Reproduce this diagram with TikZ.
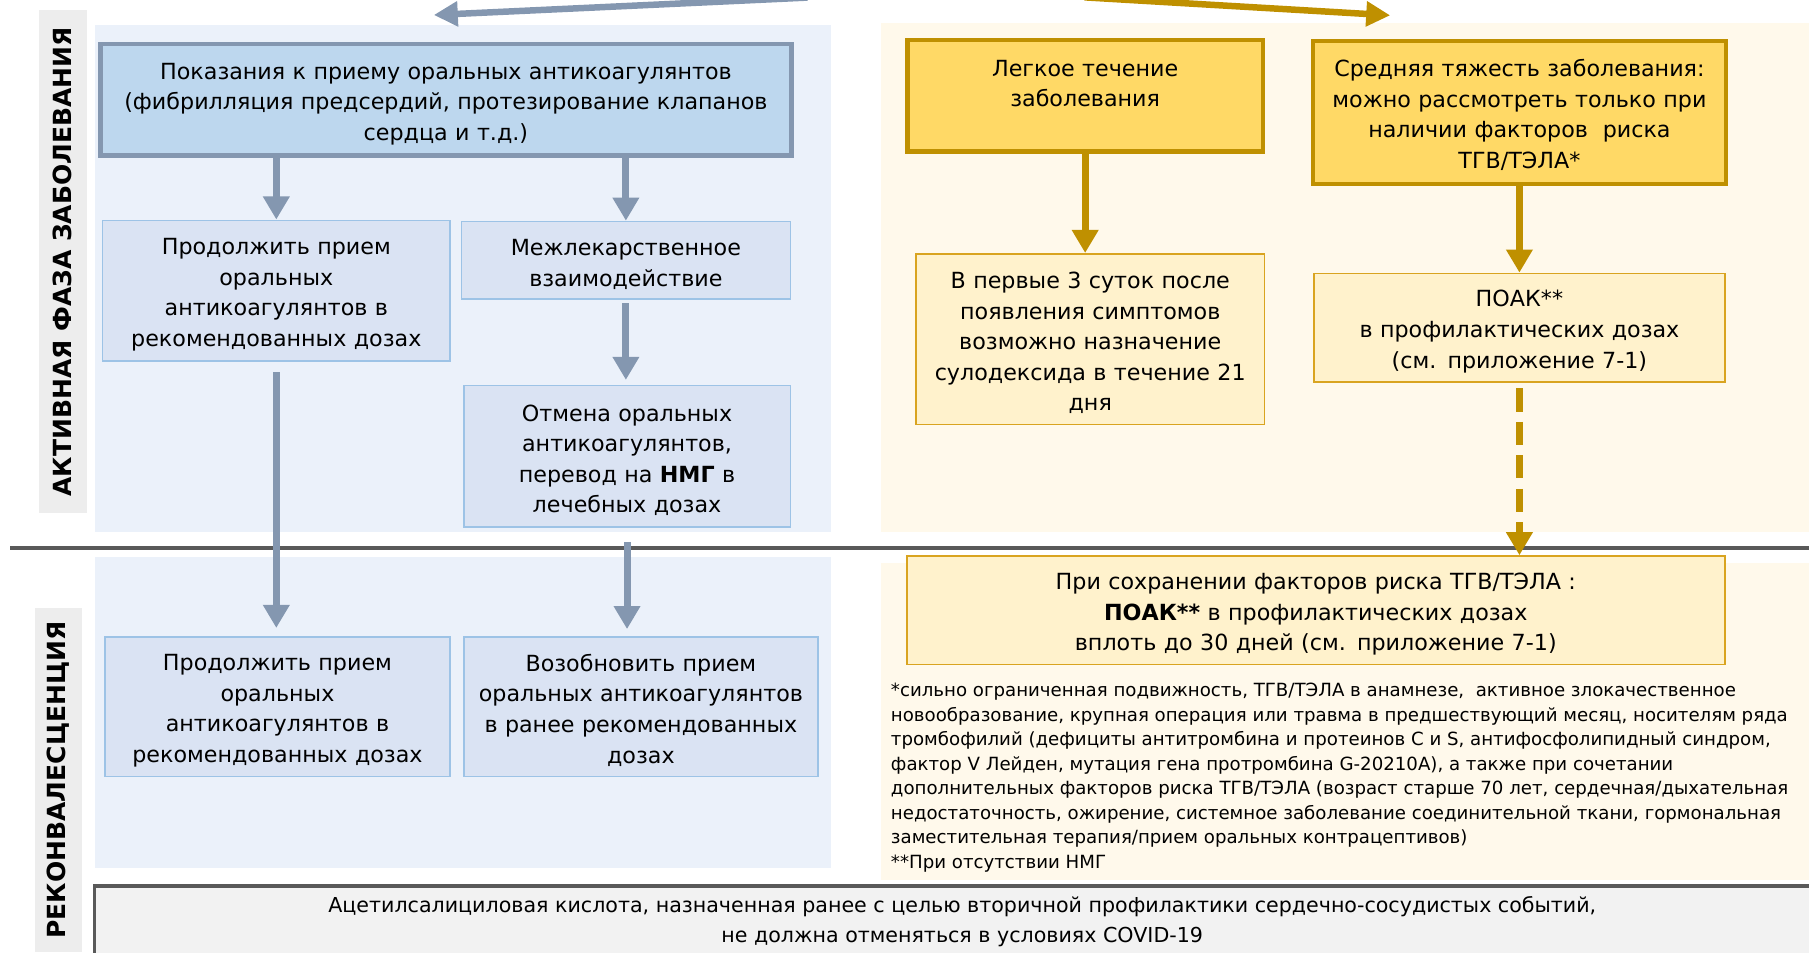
\documentclass[tikz,border=0pt]{standalone}
\usepackage{fontspec}
\setmainfont{DejaVu Sans}
\usetikzlibrary{arrows.meta}
\definecolor{slate}{HTML}{8497B0}
\definecolor{blmain}{HTML}{BDD7EE}
\definecolor{blsub}{HTML}{DAE3F3}
\definecolor{blline}{HTML}{9DC3E6}
\definecolor{bgblue}{HTML}{EBF1FA}
\definecolor{bgyel}{HTML}{FFF9EB}
\definecolor{gold}{HTML}{BF9000}
\definecolor{yemain}{HTML}{FFD966}
\definecolor{yesub}{HTML}{FFF2CC}
\definecolor{yeline}{HTML}{D9A420}
\definecolor{labgray}{HTML}{EDEDED}
\definecolor{sepgray}{HTML}{595959}
\definecolor{barfill}{HTML}{F2F2F2}
\newcommand{\fsA}{\fontsize{13.7pt}{18.85pt}\selectfont}
\newcommand{\fsB}{\fontsize{11.2pt}{15.15pt}\selectfont}
\newcommand{\fsC}{\fontsize{15.4pt}{18pt}\selectfont\bfseries}
\newcommand{\fsD}{\fontsize{12.7pt}{18.5pt}\selectfont}
\tikzstyle{bl1}=[draw=slate, line width=2.8pt, fill=blmain, align=center, inner sep=0pt, font=\fsA, execute at begin node=\rule{0pt}{15pt}]
\tikzstyle{bl2}=[draw=blline, line width=1pt, fill=blsub, align=center, inner sep=0pt, font=\fsA, execute at begin node=\rule{0pt}{15pt}]
\tikzstyle{ye1}=[draw=gold, line width=2.8pt, fill=yemain, align=center, inner sep=0pt, font=\fsA, execute at begin node=\rule{0pt}{13.6pt}]
\tikzstyle{ye2}=[draw=yeline, line width=1pt, fill=yesub, align=center, inner sep=0pt, font=\fsA, execute at begin node=\rule{0pt}{15pt}]
\tikzstyle{lab}=[fill=labgray, inner sep=0pt, font=\fsC]
\tikzstyle{arbl}=[draw=slate, line width=4.3pt, -{Triangle[width=0.55cm,length=0.5cm]}]
\tikzstyle{arye}=[draw=gold, line width=4.3pt, -{Triangle[width=0.55cm,length=0.5cm]}]

\begin{document}
\begin{tikzpicture}[x=0.025cm, y=-0.025cm]
  \useasboundingbox (0,0) rectangle (1568,826);
  \fill[bgblue] (82,22) rectangle (720,461);
  \fill[bgblue] (82,483) rectangle (720,752);
  \fill[bgyel] (764,20) rectangle (1568,461);
  \fill[bgyel] (764,488) rectangle (1568,763);
  \node[lab, rotate=90, minimum width=10.9cm, minimum height=1.025cm] (act) at (54.5,227) {АКТИВНАЯ ФАЗА ЗАБОЛЕВАНИЯ};
  \node[lab, rotate=90, minimum width=7.45cm, minimum height=1.025cm] (rek) at (50.5,676) {РЕКОНВАЛЕСЦЕНЦИЯ};
  \coordinate (sepL) at (9,475);
  \coordinate (sepR) at (1568,475);
  \draw[sepgray, line width=2.2pt] (sepL) -- (sepR);
  \node[draw=sepgray, line width=2pt, fill=barfill, align=center, font=\fsD, minimum width=37.6cm, minimum height=1.55cm, execute at begin node=\rule{0pt}{13.5pt}] (asa) at (834,799)
    {Ацетилсалициловая кислота, назначенная ранее с целью вторичной профилактики сердечно-сосудистых событий,\\не должна отменяться в условиях COVID-19};

  \node[bl1, minimum width=14.975cm, minimum height=2.425cm, text width=14.8cm] (main) at (386.5,86.5)
    {Показания к приему оральных антикоагулянтов\\(фибрилляция предсердий, протезирование клапанов\\сердца и т.д.)};
  \node[bl2, minimum width=7.525cm, minimum height=3.05cm, text width=7.4cm] (prod) at (239.5,252)
    {Продолжить прием\\оральных\\антикоагулянтов в\\рекомендованных дозах};
  \node[bl2, minimum width=7.125cm, minimum height=1.675cm, text width=7cm] (mezh) at (542.5,225.5)
    {Межлекарственное\\взаимодействие};
  \node[bl2, minimum width=7.075cm, minimum height=3.075cm, text width=6.95cm] (otm) at (543.5,395.5)
    {Отмена оральных\\антикоагулянтов,\\перевод на \textbf{НМГ} в\\лечебных дозах};
  \node[bl2, minimum width=7.475cm, minimum height=3.025cm, text width=7.35cm] (prod2) at (240.5,612.5)
    {Продолжить прием\\оральных\\антикоагулянтов в\\рекомендованных дозах};
  \node[bl2, minimum width=7.675cm, minimum height=3.025cm, text width=7.55cm] (vozob) at (555.5,612.5)
    {Возобновить прием\\оральных антикоагулянтов\\в ранее рекомендованных\\дозах};

  \node[ye1, minimum width=7.7cm, minimum height=2.425cm, text width=7.5cm] (legk) at (940.6,83)
    {Легкое течение\\заболевания\\~};
  \node[ye1, minimum width=8.95cm, minimum height=3.1cm, text width=8.8cm] (mod) at (1317,97.5)
    {Средняя тяжесть заболевания:\\можно рассмотреть только при\\наличии факторов\ \ риска\\ТГВ/ТЭЛА*};
  \node[ye2, minimum width=7.55cm, minimum height=3.7cm, text width=7.4cm, execute at begin node=\rule{0pt}{12.2pt}] (perv) at (945,294)
    {В первые 3 суток после\\появления симптомов\\возможно назначение\\сулодексида в течение 21\\дня};
  \node[ye2, minimum width=8.9cm, minimum height=2.35cm, text width=8.75cm] (poak) at (1317,284)
    {ПОАК**\\в профилактических дозах\\(см. приложение 7-1)};
  \node[ye2, minimum width=17.725cm, minimum height=2.35cm, text width=17.5cm] (pri) at (1140.5,529)
    {При сохранении факторов риска ТГВ/ТЭЛА :\\\textbf{ПОАК**} в профилактических дозах\\вплоть до 30 дней (см. приложение 7-1)};
  \node[anchor=west, align=left, inner sep=0pt, font=\fsB] (fn) at (772,674)
    {*сильно ограниченная подвижность, ТГВ/ТЭЛА в анамнезе,\ \ активное злокачественное\\
     новообразование, крупная операция или травма в предшествующий месяц, носителям ряда\\
     тромбофилий (дефициты антитромбина и протеинов С и S, антифосфолипидный синдром,\\
     фактор V Лейден, мутация гена протромбина G-20210A), а также при сочетании\\
     дополнительных факторов риска ТГВ/ТЭЛА (возраст старше 70 лет, сердечная/дыхательная\\
     недостаточность, ожирение, системное заболевание соединительной ткани, гормональная\\
     заместительная терапия/прием оральных контрацептивов)\\
     **При отсутствии НМГ};

  \coordinate (tb1) at (700,-2.1);
  \coordinate (tb2) at (376,13);
  \coordinate (ty1) at (940,-2.3);
  \coordinate (ty2) at (1205,13.3);
  \draw[arbl, line width=4pt, -{Triangle[width=0.52cm,length=0.52cm]}] (tb1) -- (tb2);
  \draw[arye, line width=4pt, -{Triangle[width=0.52cm,length=0.52cm]}] (ty1) -- (ty2);

  \draw[arbl] (main.south -| prod.north) -- (prod.north);
  \draw[arbl] (main.south -| mezh.north) -- (mezh.north);
  \draw[arbl, shorten <=0.075cm, shorten >=0.1cm] (mezh.south) -- (mezh.south |- otm.north);
  \draw[arbl, shorten <=0.225cm, shorten >=0.175cm] (prod.south) -- (prod.south |- prod2.north);
  \draw[arbl, shorten <=0.3cm, shorten >=0.15cm] (otm.south) -- (otm.south |- vozob.north);
  \draw[arye] (legk.south) -- (legk.south |- perv.north);
  \draw[arye] (mod.south) -- (poak.north);
  \draw[arye, dash pattern=on 0.5cm off 0.225cm, shorten <=0.125cm] (poak.south) -- (poak.south |- pri.north);
\end{tikzpicture}
\end{document}
